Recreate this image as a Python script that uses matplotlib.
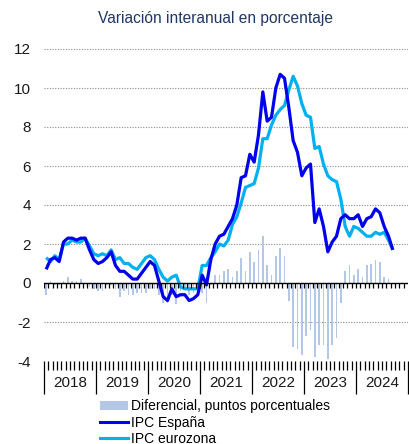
import matplotlib
matplotlib.use("Agg")
import matplotlib.pyplot as plt
from matplotlib.patches import Patch
from matplotlib.lines import Line2D
from matplotlib.transforms import blended_transform_factory
import numpy as np

plt.rcParams["font.family"] = ["Liberation Sans", "DejaVu Sans"]

# Monthly data, January 2018 - September 2024
years = ["2018", "2019", "2020", "2021", "2022", "2023", "2024"]

ipc_espana = [
    0.7, 1.2, 1.3, 1.1, 2.1, 2.3, 2.3, 2.2, 2.3, 2.3, 1.7, 1.2,      # 2018
    1.0, 1.1, 1.3, 1.6, 0.9, 0.6, 0.6, 0.4, 0.2, 0.2, 0.5, 0.8,      # 2019
    1.1, 0.9, 0.1, -0.7, -0.9, -0.3, -0.7, -0.6, -0.6, -0.9, -0.8, -0.6,  # 2020
    0.4, -0.1, 1.2, 2.0, 2.4, 2.5, 2.9, 3.3, 4.0, 5.4, 5.5, 6.6,     # 2021
    6.2, 7.6, 9.8, 8.3, 8.5, 10.0, 10.7, 10.5, 9.0, 7.3, 6.7, 5.5,   # 2022
    5.9, 6.1, 3.1, 3.8, 2.9, 1.6, 2.1, 2.4, 3.3, 3.5, 3.3, 3.3,      # 2023
    3.5, 2.9, 3.3, 3.4, 3.8, 3.6, 2.9, 2.4, 1.7,                     # 2024
]

ipc_eurozona = [
    1.3, 1.1, 1.4, 1.2, 2.0, 2.0, 2.2, 2.1, 2.1, 2.3, 1.9, 1.5,      # 2018
    1.4, 1.5, 1.4, 1.7, 1.2, 1.3, 1.0, 1.0, 0.8, 0.7, 1.0, 1.3,      # 2019
    1.4, 1.2, 0.7, 0.3, 0.1, 0.3, 0.4, -0.2, -0.3, -0.3, -0.3, -0.3, # 2020
    0.9, 0.9, 1.3, 1.6, 2.0, 1.9, 2.2, 3.0, 3.4, 4.1, 4.9, 5.0,      # 2021
    5.1, 5.9, 7.4, 7.4, 8.1, 8.6, 8.9, 9.1, 9.9, 10.6, 10.1, 9.2,    # 2022
    8.6, 8.5, 6.9, 7.0, 6.1, 5.5, 5.3, 5.2, 4.3, 2.9, 2.4, 2.9,      # 2023
    2.8, 2.6, 2.4, 2.4, 2.6, 2.5, 2.6, 2.2, 1.7,                     # 2024
]

diferencial = [
    -0.6, 0.1, -0.1, -0.1, 0.1, 0.3, 0.1, 0.1, 0.2, 0.0, -0.2, -0.3,   # 2018
    -0.4, -0.4, -0.1, -0.1, -0.3, -0.7, -0.4, -0.6, -0.6, -0.5, -0.5, -0.5,  # 2019
    -0.3, -0.3, -0.6, -1.0, -1.0, -0.6, -1.1, -0.4, -0.3, -0.6, -0.5, -0.3,  # 2020
    -0.5, -1.0, -0.1, 0.4, 0.4, 0.6, 0.7, 0.3, 0.6, 1.3, 0.6, 1.6,     # 2021
    1.1, 1.7, 2.4, 0.9, 0.4, 1.4, 1.8, 1.4, -0.9, -3.3, -3.4, -3.7,    # 2022
    -2.7, -2.4, -3.8, -3.2, -3.2, -3.9, -3.2, -2.8, -1.0, 0.6, 0.9, 0.4,  # 2023
    0.7, 0.3, 0.9, 1.0, 1.2, 1.1, 0.3, 0.2, 0.0,                       # 2024
]

y_ticks = [-4, -2, 0, 2, 4, 6, 8, 10, 12]

C_BAR = "#b4c7e7"
C_ES = "#0000ee"
C_EZ = "#00b0f0"

W, H = 409, 444
fig = plt.figure(figsize=(W / 100, H / 100), dpi=100)
ax = fig.add_axes([44 / W, (H - 361) / H, 364 / W, 312 / H])

n_months = 12 * len(years)
x = np.arange(len(ipc_espana)) + 0.5

# dotted horizontal guides and the solid zero line
for yv in y_ticks:
    if yv in (0, -4):
        continue
    ax.axhline(yv, color="#8a8a8a", lw=0.8, ls=(0, (1, 1.4)), zorder=1)
ax.axhline(0, color="black", lw=1.0, zorder=5)

ax.bar(x, diferencial, width=0.42, color=C_BAR, zorder=2)
ax.plot(x, ipc_eurozona, color=C_EZ, lw=2.3, zorder=3,
        solid_joinstyle="round", solid_capstyle="butt")
ax.plot(x, ipc_espana, color=C_ES, lw=2.3, zorder=4,
        solid_joinstyle="round", solid_capstyle="butt")

ax.set_xlim(0, n_months)
ax.set_ylim(-4, 12)
ax.set_yticks(y_ticks)
ax.set_yticklabels([str(v) for v in y_ticks])
ax.tick_params(axis="y", length=0, pad=9.2, labelsize=11, labelcolor="#1a1a1a")
for s in ax.spines.values():
    s.set_visible(False)

# month ticks hanging from the zero line
months = np.arange(0, n_months + 1)
ax.vlines(months[:-1], -0.26, 0, color="black", lw=0.9, zorder=5)

# month ticks and year separators along the bottom
ax.set_xticks(np.arange(0, n_months + 1, 12))
ax.set_xticks(months, minor=True)
ax.tick_params(axis="x", which="major", direction="out", length=23.5,
               width=0.9, color="black", labelbottom=False)
ax.tick_params(axis="x", which="minor", direction="out", length=6.5,
               width=0.9, color="black")

trans = blended_transform_factory(ax.transData, ax.transAxes)
for i, yr in enumerate(years):
    ax.text(12 * i + 6, -0.072, yr, transform=trans, ha="center", va="center",
            fontsize=11, color="#1a1a1a")

fig.text(215 / W, 1 - 18 / H, "Variación interanual en porcentaje",
         ha="center", va="center", fontsize=11.2, color="#1f3864")

handles = [
    Patch(facecolor=C_BAR, edgecolor="none"),
    Line2D([], [], color=C_ES, lw=2.2),
    Line2D([], [], color=C_EZ, lw=2.2),
]
labels = ["Diferencial, puntos porcentuales", "IPC España", "IPC eurozona"]
fig.legend(handles, labels, loc="upper left",
           bbox_to_anchor=(100 / W, 1 - 399 / H), frameon=False,
           fontsize=10, handlelength=2.0, handleheight=0.6,
           handletextpad=0.22, labelspacing=0.18, borderpad=0,
           borderaxespad=0)

fig.savefig("out.png", dpi=100)
